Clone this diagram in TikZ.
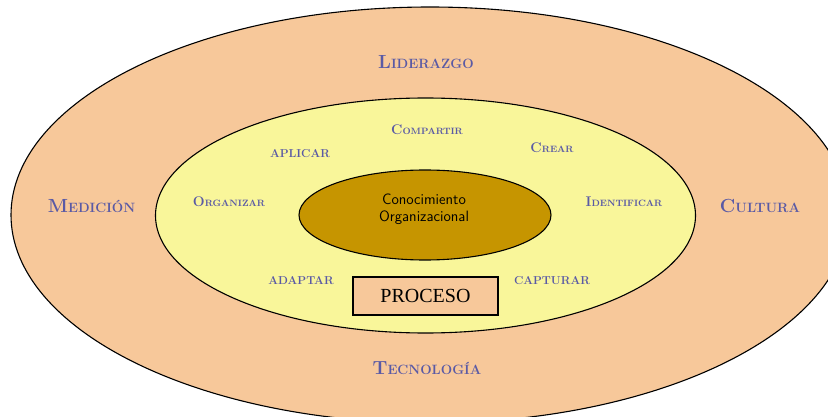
\documentclass[tikz,border=0pt]{standalone}
\usepackage{fontspec}
\setmainfont{Latin Modern Roman}
\newfontfamily\procfont{Liberation Serif}
\usetikzlibrary{shapes.geometric}
\definecolor{peach}{HTML}{F7C89A}
\definecolor{paleyellow}{HTML}{F9F69A}
\definecolor{darkgold}{HTML}{C69500}
\definecolor{labelblue}{HTML}{5A5AA5}
\newcommand\outercap[1]{{\fontsize{19}{20}\selectfont #1}}
\newcommand\innercap[1]{{\fontsize{14}{15}\selectfont #1}}
\tikzset{
  ring/.style={ellipse, draw=black, line width=1.1pt, inner sep=0pt},
  outerlabel/.style={text=labelblue, font=\fontsize{13.5}{16}\selectfont\bfseries, inner sep=0pt},
  innerlabel/.style={text=labelblue, font=\fontsize{9.2}{11}\selectfont\bfseries, inner sep=0pt},
  innerplain/.style={text=labelblue, font=\fontsize{11.5}{13}\selectfont\bfseries, inner sep=0pt},
  corelabel/.style={text=black, font=\fontsize{15}{17}\selectfont\sffamily, align=center, inner sep=0pt},
  procbox/.style={draw=black, line width=1.1pt, fill=peach, minimum width=145pt, minimum height=38pt, inner sep=0pt, font=\fontsize{20}{22}\selectfont\procfont}
}
\begin{document}
\begin{tikzpicture}[x=1pt,y=-1pt]
\useasboundingbox (0,0) rectangle (828,417);
\clip (0,0) rectangle (828,417);
\node[ring, fill=peach, minimum width=838pt, minimum height=416pt] (outer) at (430,215) {};
\node[ring, fill=paleyellow, minimum width=540pt, minimum height=235pt] (middle) at (425.5,215.5) {};
\node[ring, fill=darkgold, minimum width=252pt, minimum height=90pt] (core) at (425,215) {};
\node[procbox] (proceso) at (425.5,296) {PROCESO};
\node[corelabel] (corea) at (424,199) {Conocimiento};
\node[corelabel] (coreb) at (424,218) {Organizacional};
\node[outerlabel] (liderazgo) at (426,62) {\outercap{L}IDERAZGO};
\node[outerlabel] (medicion) at (91.5,206) {\outercap{M}EDICIÓN};
\node[outerlabel] (cultura) at (760,206) {\outercap{C}ULTURA};
\node[outerlabel] (tecnologia) at (427,368) {\outercap{T}ECNOLOGÍA};
\node[innerlabel] (compartir) at (427,130) {\innercap{C}OMPARTIR};
\node[innerplain] (aplicar) at (300,154) {APLICAR};
\node[innerlabel] (crear) at (552,148) {\innercap{C}REAR};
\node[innerlabel] (organizar) at (229,202) {\innercap{O}RGANIZAR};
\node[innerlabel] (identificar) at (624,202) {\innercap{I}DENTIFICAR};
\node[innerplain] (adaptar) at (301,281) {ADAPTAR};
\node[innerplain] (capturar) at (552,281) {CAPTURAR};
\end{tikzpicture}
\end{document}
